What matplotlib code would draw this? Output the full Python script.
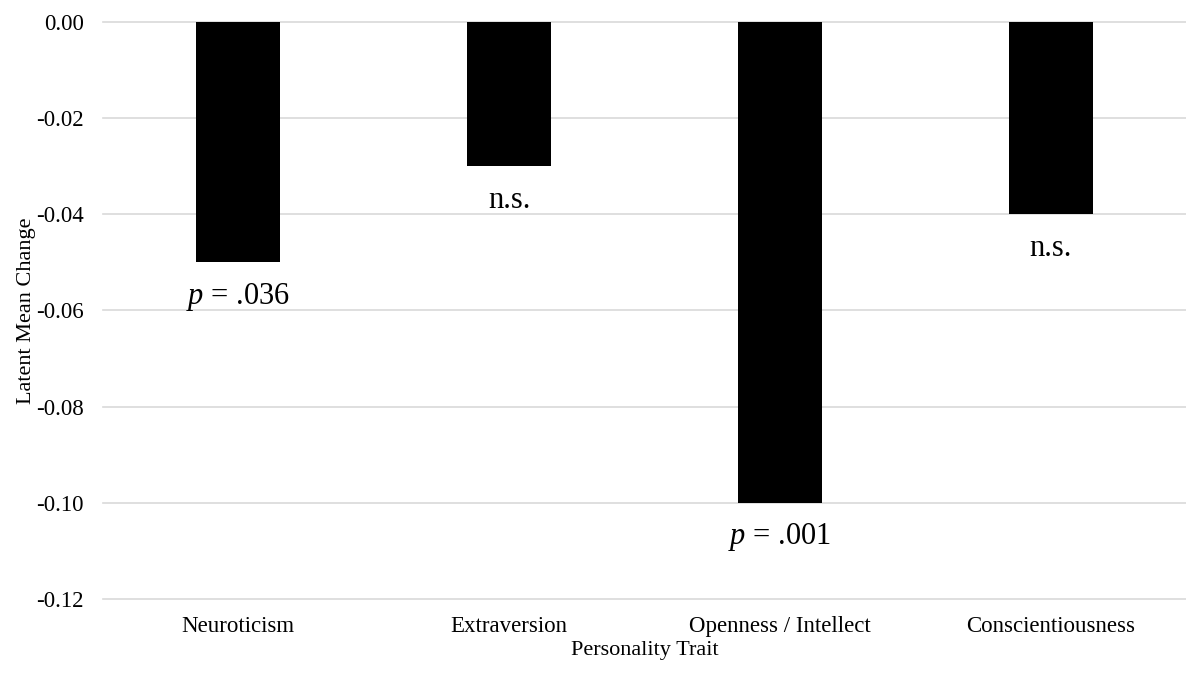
import matplotlib
matplotlib.use("Agg")
import matplotlib.pyplot as plt
import numpy as np

traits = ["Neuroticism", "Extraversion", "Openness / Intellect", "Conscientiousness"]
change = [-0.05, -0.03, -0.10, -0.04]
notes = ["$p$ = .036", "n.s.", "$p$ = .001", "n.s."]
yticks = [0.0, -0.02, -0.04, -0.06, -0.08, -0.10, -0.12]

plt.rcParams["font.family"] = "Liberation Serif"
plt.rcParams["mathtext.fontset"] = "custom"
plt.rcParams["mathtext.rm"] = "Liberation Serif"
plt.rcParams["mathtext.it"] = "Liberation Serif:italic"

fig = plt.figure(figsize=(11.86, 6.73), dpi=100)
ax = fig.add_axes([0.0868, 0.110, 0.9132, 0.8578])

x = np.arange(len(traits))
ax.bar(x, change, width=0.31, color="black", zorder=3)

for xi, v, t in zip(x, change, notes):
    ax.annotate(t, (xi, v), xytext=(0, -25), textcoords="offset points",
                ha="center", va="center", fontsize=22)

ax.set_xlim(-0.5, len(traits) - 0.5)
ax.set_ylim(-0.12, 0.0)
ax.set_yticks(yticks)
ax.set_yticklabels([f"{v:.2f}" for v in yticks])
ax.set_xticks(x)
ax.set_xticklabels(traits)
ax.tick_params(axis="both", length=0, labelsize=16.5)
ax.tick_params(axis="y", pad=14)
ax.tick_params(axis="x", pad=12)
ax.grid(axis="y", color="#d9d9d9", lw=1.2, zorder=0)
for gl in ax.get_ygridlines():
    gl.set_clip_on(False)
ax.set_axisbelow(True)
for s in ax.spines.values():
    s.set_visible(False)
ax.set_xlabel("Personality Trait", fontsize=16, labelpad=3)
ax.set_ylabel("Latent Mean Change", fontsize=16, labelpad=0)

fig.savefig("out.png", dpi=100)
